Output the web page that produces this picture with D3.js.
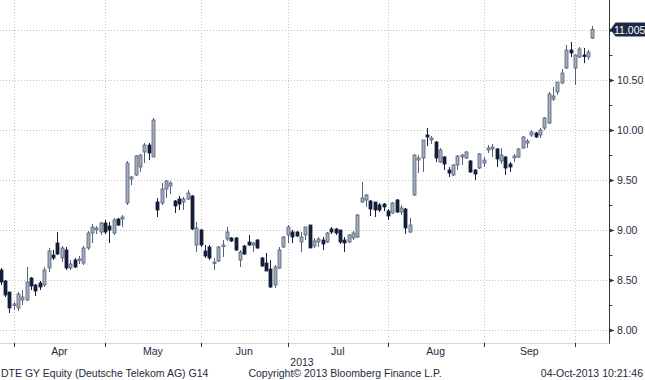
<!DOCTYPE html>
<html>
<head>
<meta charset="utf-8">
<script src="https://cdn.jsdelivr.net/npm/d3@7"></script>
<style>
  body { margin: 0; background: #fff; }
  svg { display: block; }
  text { font-family: "Liberation Sans", Arial, sans-serif; fill: #222a3a; }
</style>
</head>
<body>
<svg id="chart" width="645" height="380"></svg>
<script>
// trading days: weekdays 25-Mar-2013 .. 04-Oct-2013, Xetra holidays removed
const firstDay = new Date(2013, 2, 25);
const lastDay = new Date(2013, 9, 4);
const holidays = ["2013-03-29", "2013-04-01", "2013-05-01"];

// DTE GY daily OHLC
const opens = [8.60, 8.49, 8.38, 8.25, 8.22, 8.30, 8.30, 8.52, 8.45, 8.47,
  8.45, 8.62, 8.75, 8.87, 8.72, 8.80, 8.62, 8.70, 8.70, 8.67,
  8.82, 8.97, 9.00, 8.98, 9.07, 9.04, 8.97, 9.11, 9.11, 9.27,
  9.51, 9.55, 9.63, 9.78, 9.85, 9.73, 9.28, 9.27, 9.41, 9.44,
  9.29, 9.31, 9.28, 9.31, 9.34, 8.85, 9.00, 8.79, 8.83, 8.67,
  8.69, 8.84, 8.91, 8.92, 8.92, 8.70, 8.84, 8.88, 8.85, 8.90,
  8.72, 8.67, 8.61, 8.45, 8.62, 8.83, 8.95, 8.98, 8.98, 8.88,
  8.95, 9.05, 8.84, 8.88, 8.90, 8.88, 9.01, 9.01, 9.00, 8.90,
  8.88, 8.92, 8.93, 9.28, 9.30, 9.29, 9.28, 9.25, 9.26, 9.19,
  9.17, 9.30, 9.18, 9.21, 8.98, 9.35, 9.70, 9.72, 9.95, 9.90,
  9.88, 9.68, 9.73, 9.60, 9.55, 9.65, 9.73, 9.72, 9.69, 9.60,
  9.62, 9.67, 9.80, 9.81, 9.81, 9.69, 9.73, 9.66, 9.72, 9.73,
  9.82, 9.87, 9.95, 9.97, 9.95, 10.02, 10.07, 10.31, 10.38, 10.47,
  10.62, 10.80, 10.62, 10.73, 10.75, 10.73, 10.92];
const highs = [8.62, 8.50, 8.38, 8.28, 8.38, 8.40, 8.63, 8.53, 8.46, 8.49,
  8.63, 8.82, 8.80, 8.98, 8.84, 8.83, 8.70, 8.72, 8.74, 8.84,
  8.99, 9.06, 9.04, 9.08, 9.10, 9.08, 9.12, 9.12, 9.15, 9.69,
  9.54, 9.75, 9.76, 9.87, 9.87, 10.12, 9.32, 9.47, 9.50, 9.49,
  9.30, 9.34, 9.33, 9.40, 9.35, 9.08, 9.01, 8.85, 8.85, 8.72,
  8.84, 8.90, 9.03, 8.93, 8.93, 8.80, 8.85, 8.95, 8.88, 8.91,
  8.73, 8.77, 8.70, 8.65, 8.83, 8.94, 9.05, 9.00, 8.99, 8.98,
  9.03, 9.05, 8.92, 8.93, 8.93, 8.98, 9.03, 9.02, 9.00, 8.93,
  8.96, 8.99, 9.16, 9.48, 9.36, 9.30, 9.28, 9.27, 9.27, 9.21,
  9.28, 9.31, 9.25, 9.22, 9.12, 9.76, 9.75, 9.90, 10.02, 9.94,
  9.89, 9.82, 9.74, 9.63, 9.66, 9.75, 9.76, 9.79, 9.70, 9.61,
  9.77, 9.73, 9.85, 9.86, 9.82, 9.82, 9.74, 9.68, 9.76, 9.82,
  9.94, 9.91, 10.00, 9.98, 10.02, 10.13, 10.38, 10.43, 10.48, 10.61,
  10.85, 10.88, 10.76, 10.83, 10.82, 10.80, 11.04];
const lows = [8.45, 8.33, 8.17, 8.20, 8.19, 8.25, 8.29, 8.40, 8.34, 8.40,
  8.43, 8.58, 8.70, 8.75, 8.68, 8.60, 8.60, 8.62, 8.66, 8.65,
  8.80, 8.87, 8.96, 8.95, 8.96, 8.87, 8.95, 9.04, 9.03, 9.25,
  9.45, 9.54, 9.58, 9.67, 9.70, 9.73, 9.13, 9.25, 9.32, 9.36,
  9.17, 9.20, 9.20, 9.30, 9.00, 8.78, 8.83, 8.72, 8.70, 8.60,
  8.68, 8.73, 8.89, 8.88, 8.79, 8.63, 8.75, 8.84, 8.78, 8.81,
  8.63, 8.59, 8.42, 8.42, 8.61, 8.82, 8.87, 8.87, 8.93, 8.78,
  8.90, 8.82, 8.82, 8.83, 8.80, 8.87, 8.96, 8.95, 8.86, 8.78,
  8.87, 8.90, 8.92, 9.27, 9.23, 9.14, 9.13, 9.18, 9.19, 9.10,
  9.16, 9.17, 9.15, 8.96, 8.97, 9.34, 9.57, 9.58, 9.84, 9.86,
  9.68, 9.67, 9.60, 9.53, 9.54, 9.60, 9.65, 9.71, 9.57, 9.50,
  9.61, 9.63, 9.77, 9.73, 9.63, 9.66, 9.55, 9.58, 9.68, 9.72,
  9.81, 9.82, 9.93, 9.92, 9.92, 10.00, 10.06, 10.29, 10.35, 10.46,
  10.61, 10.73, 10.45, 10.72, 10.67, 10.70, 10.91];
const closes = [8.48, 8.35, 8.22, 8.26, 8.36, 8.33, 8.48, 8.44, 8.39, 8.43,
  8.60, 8.79, 8.72, 8.76, 8.82, 8.62, 8.66, 8.63, 8.71, 8.82,
  8.97, 9.03, 9.02, 9.07, 8.98, 9.00, 9.10, 9.05, 9.13, 9.67,
  9.53, 9.74, 9.75, 9.85, 9.77, 10.10, 9.20, 9.41, 9.49, 9.47,
  9.24, 9.26, 9.31, 9.37, 9.01, 9.02, 8.85, 8.74, 8.72, 8.68,
  8.83, 8.85, 8.98, 8.89, 8.80, 8.78, 8.76, 8.85, 8.87, 8.82,
  8.64, 8.59, 8.43, 8.63, 8.80, 8.93, 9.03, 8.93, 8.94, 8.93,
  9.03, 8.82, 8.89, 8.91, 8.86, 8.97, 8.98, 8.97, 8.88, 8.87,
  8.95, 8.97, 9.15, 9.32, 9.35, 9.21, 9.20, 9.20, 9.23, 9.14,
  9.27, 9.18, 9.22, 9.02, 9.05, 9.75, 9.72, 9.90, 9.93, 9.92,
  9.72, 9.80, 9.66, 9.57, 9.65, 9.74, 9.75, 9.78, 9.58, 9.56,
  9.76, 9.70, 9.82, 9.83, 9.71, 9.75, 9.62, 9.63, 9.74, 9.81,
  9.93, 9.89, 9.98, 9.93, 10.00, 10.12, 10.36, 10.34, 10.48, 10.57,
  10.80, 10.77, 10.75, 10.81, 10.74, 10.78, 11.005];

const monthNames = ["Apr", "May", "Jun", "Jul", "Aug", "Sep", "Oct"];
const priceTicks = [8.0, 8.5, 9.0, 9.5, 10.0, 10.5, 11.0];
const lastLabel = "11.005";
const yearLabel = "2013";
const footLeft = "DTE GY Equity (Deutsche Telekom AG) G14";
const footMid = "Copyright\u00a9 2013 Bloomberg Finance L.P.";
const footRight = "04-Oct-2013 10:21:46";

const fmt = d3.timeFormat("%Y-%m-%d");
const days = d3.timeDay.range(firstDay, d3.timeDay.offset(lastDay, 1))
  .filter((d) => d.getDay() % 6 !== 0 && !holidays.includes(fmt(d)));

const candles = days.map((d, i) => ({
  date: d, i: i,
  o: opens[i], h: highs[i], l: lows[i], c: closes[i],
}));

const W = 645, H = 380;
const axisX = 609.5;     // right price axis
const plotBottom = 343;

const svg = d3.select("#chart");

const x = d3.scaleLinear().domain([0, days.length - 1]).range([0.7, 592.3]);
const y = d3.scaleLinear().domain([8, 11]).range([330, 30]);

// month boundaries: gridline sits on the last session of the previous month
const monthIdx = [];
for (let m = 3; m <= 9; m++) {
  const k = days.findIndex((d) => d.getMonth() === m);
  monthIdx.push(k - 1);
}

const grid = svg.append("g").attr("class", "grid");
grid.selectAll("line.h")
  .data(priceTicks)
  .enter()
  .append("line")
  .attr("x1", 0)
  .attr("x2", axisX)
  .attr("y1", (d) => Math.round(y(d)) + 0.5)
  .attr("y2", (d) => Math.round(y(d)) + 0.5)
  .attr("stroke", "#c4c4c4")
  .attr("stroke-dasharray", "1,2");

grid.selectAll("line.v")
  .data(monthIdx)
  .enter()
  .append("line")
  .attr("x1", (d) => Math.round(x(d)) + 0.5)
  .attr("x2", (d) => Math.round(x(d)) + 0.5)
  .attr("y1", 0)
  .attr("y2", plotBottom)
  .attr("stroke", "#c4c4c4")
  .attr("stroke-dasharray", "1,2");

// candles
const UP_FILL = "#a3adbf", UP_LINE = "#55637d";
const DN_FILL = "#141f3b", DN_LINE = "#141f3b";

const cg = svg.append("g")
  .selectAll("g")
  .data(candles)
  .enter()
  .append("g")
  .attr("transform", (d) => `translate(${Math.round(x(d.i))},0)`);

cg.append("line")
  .attr("x1", 0.5).attr("x2", 0.5)
  .attr("y1", (d) => y(d.h))
  .attr("y2", (d) => y(d.l))
  .attr("stroke", (d) => (d.c >= d.o ? UP_LINE : DN_LINE))
  .attr("stroke-width", 1);

cg.append("rect")
  .attr("x", -1)
  .attr("width", 3)
  .attr("y", (d) => y(Math.max(d.o, d.c)))
  .attr("height", (d) => Math.max(1.5, Math.abs(y(d.o) - y(d.c))))
  .attr("fill", (d) => (d.c >= d.o ? UP_FILL : DN_FILL))
  .attr("stroke", (d) => (d.c >= d.o ? UP_LINE : DN_LINE))
  .attr("stroke-width", 0.8);

// right price axis
const ax = svg.append("g");
ax.append("line")
  .attr("x1", axisX).attr("x2", axisX)
  .attr("y1", 0).attr("y2", plotBottom + 1)
  .attr("stroke", "#333");

const minorTicks = d3.range(8, 11.01, 0.25).filter((v) => !priceTicks.includes(v));
ax.selectAll("line.minor")
  .data(minorTicks)
  .enter()
  .append("line")
  .attr("x1", axisX).attr("x2", axisX + 3)
  .attr("y1", (d) => Math.round(y(d)) + 0.5)
  .attr("y2", (d) => Math.round(y(d)) + 0.5)
  .attr("stroke", "#333");

ax.selectAll("path.major")
  .data(priceTicks)
  .enter()
  .append("path")
  .attr("d", (d) => {
    const yy = Math.round(y(d)) + 0.5;
    return `M${axisX},${yy - 2}L${axisX + 5},${yy}L${axisX},${yy + 2}Z`;
  })
  .attr("fill", "#333");

ax.selectAll("text")
  .data(priceTicks.filter((v) => v < 11))
  .enter()
  .append("text")
  .attr("x", 617)
  .attr("y", (d) => y(d) + 4)
  .attr("font-size", "10.5px")
  .text((d) => d3.format(".2f")(d));

// last price tag
const ly = Math.round(y(closes[closes.length - 1])) + 0.5;
svg.append("path")
  .attr("d", `M${axisX + 1},${ly}L${axisX + 6},${ly - 7}L${W},${ly - 7}L${W},${ly + 7}L${axisX + 6},${ly + 7}Z`)
  .attr("fill", "#1b2846");
svg.append("text")
  .attr("x", 614)
  .attr("y", ly + 4)
  .attr("font-size", "10.5px")
  .style("fill", "#fff")
  .text(lastLabel);

// bottom time axis
svg.append("line")
  .attr("x1", 0).attr("x2", axisX)
  .attr("y1", plotBottom + 0.5).attr("y2", plotBottom + 0.5)
  .attr("stroke", "#d8d8d8");

svg.selectAll("line.mt")
  .data(monthIdx)
  .enter()
  .append("line")
  .attr("x1", (d) => Math.round(x(d)) + 0.5)
  .attr("x2", (d) => Math.round(x(d)) + 0.5)
  .attr("y1", plotBottom)
  .attr("y2", plotBottom + 4)
  .attr("stroke", "#333");

svg.selectAll("text.month")
  .data(monthNames.slice(0, -1))
  .enter()
  .append("text")
  .attr("x", (d, i) => (x(monthIdx[i]) + x(monthIdx[i + 1])) / 2)
  .attr("y", 355)
  .attr("text-anchor", "middle")
  .attr("font-size", "10.5px")
  .text((d) => d);

svg.append("text")
  .attr("x", 302)
  .attr("y", 366)
  .attr("text-anchor", "middle")
  .attr("font-size", "10.5px")
  .text(yearLabel);

svg.append("text").attr("x", 1).attr("y", 377).attr("font-size", "10.5px").text(footLeft);
svg.append("text").attr("x", 345).attr("y", 377).attr("text-anchor", "middle").attr("font-size", "10.5px").text(footMid);
svg.append("text").attr("x", 643).attr("y", 377).attr("text-anchor", "end").attr("font-size", "10.5px").text(footRight);
</script>
</body>
</html>
